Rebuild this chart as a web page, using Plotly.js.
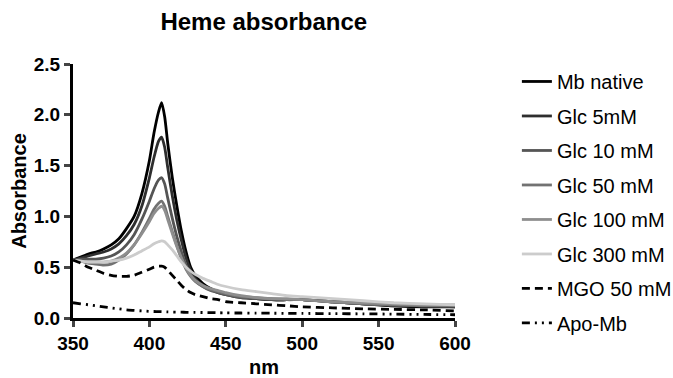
<!DOCTYPE html>
<html>
<head>
<meta charset="utf-8">
<script src="https://cdn.plot.ly/plotly-3.0.1.min.js"></script>
<style>html,body{margin:0;padding:0;background:#fff;}#chart{width:673px;height:378px;}</style>
</head>
<body>
<div id="chart"></div>
<script>
var wavelength = [350,355,360,365,370,375,380,385,390,395,400,403,406,408,410,412,415,418,421,424,427,430,435,440,445,450,460,470,480,490,500,520,540,560,580,600];
var mbNative = [0.57,0.60,0.63,0.65,0.68,0.72,0.78,0.88,1.00,1.22,1.55,1.82,2.03,2.12,1.98,1.72,1.38,1.10,0.85,0.65,0.50,0.42,0.34,0.29,0.26,0.24,0.21,0.19,0.18,0.18,0.18,0.16,0.14,0.12,0.11,0.11];
var glc5 = [0.57,0.59,0.61,0.63,0.65,0.68,0.73,0.81,0.92,1.10,1.38,1.58,1.74,1.78,1.68,1.48,1.20,0.96,0.76,0.59,0.47,0.39,0.32,0.28,0.25,0.23,0.20,0.19,0.18,0.18,0.18,0.16,0.14,0.12,0.12,0.11];
var glc10 = [0.57,0.58,0.58,0.58,0.59,0.61,0.65,0.72,0.82,0.97,1.15,1.27,1.36,1.38,1.32,1.18,0.98,0.80,0.65,0.52,0.43,0.37,0.31,0.27,0.25,0.23,0.20,0.19,0.18,0.18,0.18,0.16,0.14,0.13,0.12,0.12];
var glc50 = [0.57,0.56,0.54,0.53,0.52,0.53,0.57,0.63,0.72,0.84,0.98,1.07,1.13,1.15,1.10,1.00,0.85,0.71,0.58,0.48,0.41,0.36,0.31,0.28,0.26,0.24,0.21,0.20,0.19,0.18,0.18,0.16,0.14,0.13,0.12,0.12];
var glc100 = [0.57,0.56,0.55,0.55,0.55,0.56,0.59,0.64,0.72,0.83,0.95,1.03,1.08,1.10,1.06,0.97,0.83,0.70,0.59,0.49,0.42,0.37,0.32,0.29,0.27,0.25,0.22,0.20,0.19,0.19,0.18,0.16,0.15,0.14,0.13,0.13];
var glc300 = [0.57,0.56,0.55,0.55,0.55,0.56,0.57,0.59,0.62,0.66,0.70,0.73,0.75,0.76,0.75,0.72,0.67,0.61,0.55,0.50,0.46,0.43,0.39,0.36,0.33,0.31,0.28,0.26,0.24,0.22,0.21,0.19,0.17,0.15,0.14,0.13];
var mgo50 = [0.57,0.54,0.50,0.47,0.44,0.42,0.41,0.41,0.42,0.45,0.48,0.50,0.51,0.51,0.50,0.47,0.42,0.37,0.32,0.28,0.25,0.23,0.21,0.19,0.18,0.16,0.15,0.14,0.13,0.12,0.11,0.10,0.09,0.085,0.08,0.07];
var apoMb = [0.15,0.14,0.13,0.12,0.11,0.10,0.09,0.08,0.075,0.07,0.065,0.064,0.063,0.062,0.061,0.06,0.059,0.058,0.057,0.056,0.055,0.055,0.054,0.053,0.052,0.05,0.049,0.048,0.047,0.046,0.045,0.043,0.041,0.038,0.035,0.032];

var seriesNames = ["Mb native","Glc 5mM","Glc 10 mM","Glc 50 mM","Glc 100 mM","Glc 300 mM","MGO 50 mM","Apo-Mb"];
var seriesValues = [mbNative, glc5, glc10, glc50, glc100, glc300, mgo50, apoMb];
var seriesColors = ["#000000","#2e2e2e","#555555","#727272","#8e8e8e","#cccccc","#000000","#000000"];
var seriesDash = ["solid","solid","solid","solid","solid","solid","8px,5px","8px,5px,2px,5px,2px,5px"];

var traces = seriesNames.map(function(n,i){
  return {x: wavelength, y: seriesValues[i], name: n, type: "scatter", mode: "lines",
    legendgroup: "g"+i,
    line: {color: seriesColors[i], width: 2.8, dash: seriesDash[i], shape: "spline", smoothing: 0.6}};
});

var font = "Arial, 'Liberation Sans', sans-serif";
var layout = {
  width: 673, height: 378,
  margin: {l: 73, r: 218, t: 64, b: 60, autoexpand: false},
  paper_bgcolor: "#fff", plot_bgcolor: "#fff",
  font: {family: font, color: "#000"},
  title: {text: "<b>Heme absorbance</b>", font: {size: 24, family: font, color: "#000"}, x: 0.392, xanchor: "center", y: 0.944, yanchor: "middle"},
  xaxis: {range: [350, 600], tickvals: [350,400,450,500,550,600], ticks: "outside", ticklen: 6, tickwidth: 3,
    showline: true, linewidth: 3, linecolor: "#000", showgrid: false, zeroline: false,
    tickfont: {size: 19, family: font, weight: "bold"},
    title: {text: "<b>nm</b>", font: {size: 20, family: font}, standoff: 10}},
  yaxis: {range: [0, 2.5], tickvals: [0,0.5,1,1.5,2,2.5], tickformat: ".1f", ticks: "outside", ticklen: 6, tickwidth: 3,
    showline: true, linewidth: 3, linecolor: "#000", showgrid: false, zeroline: false,
    tickfont: {size: 19, family: font, weight: "bold"},
    title: {text: "<b>Absorbance</b>", font: {size: 20, family: font}, standoff: 2}},
  legend: {x: 1.162, xanchor: "left", y: 1.008, yanchor: "top", maxheight: 378, font: {size: 20, family: font}, tracegroupgap: 5.5, bgcolor: "rgba(0,0,0,0)"},
  showlegend: true
};
Plotly.newPlot("chart", traces, layout, {displayModeBar: false, staticPlot: true});
</script>
</body>
</html>
